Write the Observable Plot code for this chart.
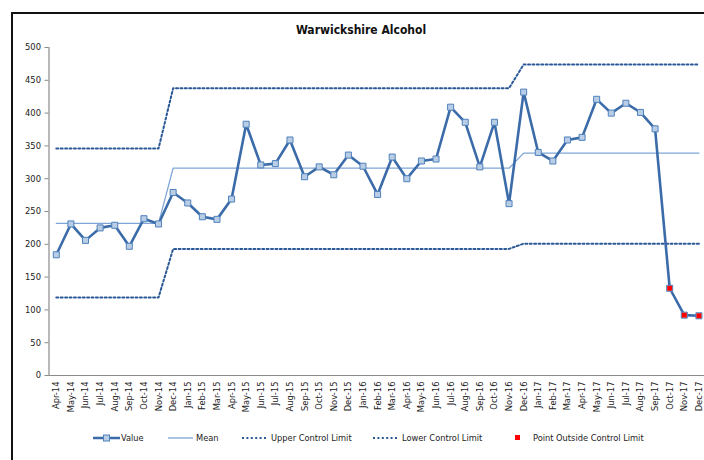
<!DOCTYPE html>
<html><head><meta charset="utf-8">
<script src="https://cdn.jsdelivr.net/npm/d3@7"></script>
<script src="https://cdn.jsdelivr.net/npm/@observablehq/plot@0.6"></script>
<style>
body{margin:0;background:#fff;}
#wrap{position:relative;width:704px;height:460px;overflow:hidden;background:#fff;font-family:"Liberation Sans Narrow","DejaVu Sans Condensed",Lato,sans-serif;color:#222;}
#frame{position:absolute;left:11px;top:12px;width:800px;height:520px;border:2px solid #111;box-sizing:border-box;}
#title{position:absolute;left:0;width:722px;top:23px;text-align:center;font-weight:bold;font-size:12px;color:#111;}
#chart{position:absolute;left:0;top:0;width:720px;}
#chart svg{max-width:none;}
.lg{position:absolute;top:431px;height:14px;font-size:9.2px;line-height:14px;white-space:nowrap;}
.lg svg{position:absolute;top:0;left:0;}
</style></head>
<body><div id="wrap"><div id="frame"></div><div id="title">Warwickshire Alcohol</div><div id="chart"></div>
<div class="lg" style="left:93px"><svg width="28" height="14"><line x1="0" x2="27" y1="7" y2="7" stroke="#3B6BA8" stroke-width="2.5"/><rect x="10.5" y="4" width="6" height="6" fill="#B9CDE5" stroke="#4F81BD" stroke-width="1"/></svg><span style="margin-left:28px">Value</span></div>
<div class="lg" style="left:168px"><svg width="28" height="14"><line x1="0" x2="25" y1="7" y2="7" stroke="#8DB0DA" stroke-width="1.5"/></svg><span style="margin-left:28px">Mean</span></div>
<div class="lg" style="left:242px"><svg width="28" height="14"><line x1="0" x2="26" y1="7" y2="7" stroke="#2B5896" stroke-width="2" stroke-dasharray="2,2.4"/></svg><span style="margin-left:29px">Upper Control Limit</span></div>
<div class="lg" style="left:373px"><svg width="28" height="14"><line x1="0" x2="25" y1="7" y2="7" stroke="#2B5896" stroke-width="2" stroke-dasharray="2,2.4"/></svg><span style="margin-left:29px">Lower Control Limit</span></div>
<div class="lg" style="left:514px"><svg width="10" height="14"><rect x="1" y="4" width="5" height="5" fill="#FF0000"/></svg><span style="margin-left:19px">Point Outside Control Limit</span></div>
</div>
<script>
const months = ["Apr-14","May-14","Jun-14","Jul-14","Aug-14","Sep-14","Oct-14","Nov-14","Dec-14","Jan-15","Feb-15","Mar-15","Apr-15","May-15","Jun-15","Jul-15","Aug-15","Sep-15","Oct-15","Nov-15","Dec-15","Jan-16","Feb-16","Mar-16","Apr-16","May-16","Jun-16","Jul-16","Aug-16","Sep-16","Oct-16","Nov-16","Dec-16","Jan-17","Feb-17","Mar-17","Apr-17","May-17","Jun-17","Jul-17","Aug-17","Sep-17","Oct-17","Nov-17","Dec-17"];
const values = [184,231,206,225,229,197,239,231,279,263,242,238,269,383,321,323,359,303,318,306,336,319,276,333,300,327,330,409,386,318,386,262,432,340,327,359,363,421,400,415,401,376,133,92,91];
const mean = [232,232,232,232,232,232,232,232,316,316,316,316,316,316,316,316,316,316,316,316,316,316,316,316,316,316,316,316,316,316,316,316,339,339,339,339,339,339,339,339,339,339,339,339,339];
const ucl = [346,346,346,346,346,346,346,346,438,438,438,438,438,438,438,438,438,438,438,438,438,438,438,438,438,438,438,438,438,438,438,438,474,474,474,474,474,474,474,474,474,474,474,474,474];
const lcl = [119,119,119,119,119,119,119,119,193,193,193,193,193,193,193,193,193,193,193,193,193,193,193,193,193,193,193,193,193,193,193,193,201,201,201,201,201,201,201,201,201,201,201,201,201];
const yTicks = [0,50,100,150,200,250,300,350,400,450,500];

const rows = months.map((m,i)=>({month:m, value:values[i], mean:mean[i], ucl:ucl[i], lcl:lcl[i]}));
const outside = rows.filter(d => d.value > d.ucl || d.value < d.lcl);

const chart = Plot.plot({
  width: 720, height: 420,
  marginLeft: 48.5, marginRight: 14.3, marginTop: 47, marginBottom: 45,
  style: {fontFamily: '"Liberation Sans Narrow","DejaVu Sans Condensed",Lato,sans-serif', fontSize: "9.3px", color: "#222", background: "transparent", maxWidth: "none"},
  x: {type: "point", domain: months, padding: 0.5, round: false, label: null},
  y: {domain: [0, 500], label: null},
  marks: [
    Plot.ruleY([0], {stroke: "#8a8a8a", strokeWidth: 1.2}),
    Plot.frame({anchor: "left", stroke: "#8a8a8a", strokeWidth: 1.2}),
    Plot.axisY({ticks: yTicks, tickSize: 4, tickPadding: 4, stroke: "#8a8a8a", fontSize: 9.3, fill: "#222", label: null}),
    Plot.axisX({tickSize: 0, tickPadding: 6, tickRotate: -90, fontSize: 9.3, fill: "#222", label: null}),
    Plot.lineY(rows, {x: "month", y: "ucl", stroke: "#2B5896", strokeWidth: 2, strokeDasharray: "2,2.4"}),
    Plot.lineY(rows, {x: "month", y: "lcl", stroke: "#2B5896", strokeWidth: 2, strokeDasharray: "2,2.4"}),
    Plot.lineY(rows, {x: "month", y: "mean", stroke: "#7FA5D6", strokeWidth: 1.3}),
    Plot.lineY(rows, {x: "month", y: "value", stroke: "#3B6BA8", strokeWidth: 2.6}),
    Plot.dot(rows, {x: "month", y: "value", symbol: "square", r: 3.4, fill: "#B9CDE5", stroke: "#4F81BD", strokeWidth: 1}),
    Plot.dot(outside, {x: "month", y: "value", symbol: "square", r: 2.8, fill: "#FF0000", stroke: "none"})
  ]
});
document.getElementById("chart").appendChild(chart);
</script>
</body></html>
